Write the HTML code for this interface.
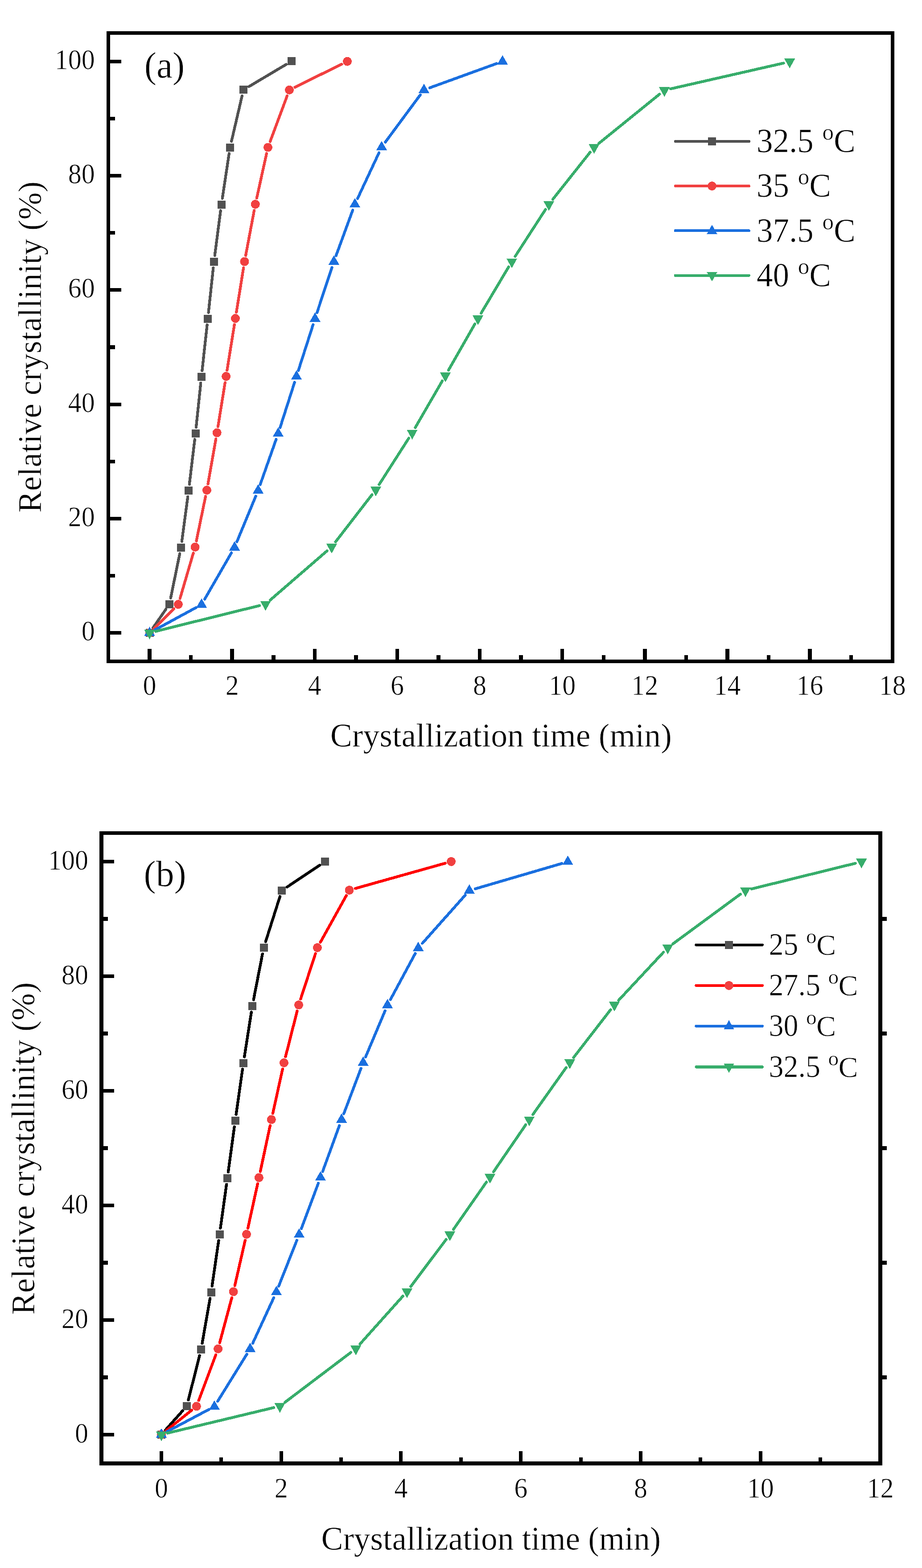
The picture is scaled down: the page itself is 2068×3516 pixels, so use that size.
<!DOCTYPE html>
<html lang="en">
<head>
<meta charset="utf-8">
<title>Relative crystallinity vs crystallization time</title>
<style>
html,body{margin:0;padding:0;background:#fff}
body{width:2068px;height:3516px;overflow:hidden}
svg{display:block}
text{font-family:"Liberation Serif",serif;stroke:#fff;stroke-width:0.7px;stroke-linejoin:round}
</style>
</head>
<body>
<svg width="2068" height="3516" viewBox="0 0 2068 3516" font-family="'Liberation Serif', serif" fill="#000">
<g id="plot-a" shape-rendering="crispEdges">
<g><path d="M343.47 1407.49L372.03 1366.21M382.81 1340.98L403.19 1241.52M407.86 1213.92L421.24 1113.78M424.77 1086L436.83 985.5M439.96 957.68L450.34 858.92M453.33 831.08L464.57 728.52M467.6 700.68L478.4 600.62M481.71 572.82L494.79 472.48M498.7 444.76L513.9 344.34M519.18 316.87L542.92 215.03M558.13 194.24L641.87 144.46" fill="none" stroke="#515151" stroke-width="6.3" stroke-linecap="round"/><rect x="326.5" y="1410" width="18" height="18" fill="#515151"/><rect x="371" y="1345.7" width="18" height="18" fill="#515151"/><rect x="397" y="1218.8" width="18" height="18" fill="#515151"/><rect x="414.1" y="1090.9" width="18" height="18" fill="#515151"/><rect x="429.5" y="962.6" width="18" height="18" fill="#515151"/><rect x="442.8" y="836" width="18" height="18" fill="#515151"/><rect x="457.1" y="705.6" width="18" height="18" fill="#515151"/><rect x="470.9" y="577.7" width="18" height="18" fill="#515151"/><rect x="487.6" y="449.6" width="18" height="18" fill="#515151"/><rect x="507" y="321.5" width="18" height="18" fill="#515151"/><rect x="537.1" y="192.4" width="18" height="18" fill="#515151"/><rect x="644.9" y="128.3" width="18" height="18" fill="#515151"/></g>
<g><path d="M345.45 1409.15L389.95 1365.05M403.84 1341.77L433.66 1240.13M440.44 1212.99L461.16 1112.81M466.43 1085.31L484.27 984.19M488.93 956.58L504.87 857.82M509.32 830.18L525.78 727.82M530.22 700.18L546.28 600.32M551.1 572.74L570.2 471.76M575.82 444.33L597.98 344.17M605.89 317.38L644.11 214.82M661.56 195.52L766.44 143.88" fill="none" stroke="#f14040" stroke-width="6.3" stroke-linecap="round"/><circle cx="335.5" cy="1419" r="10" fill="#f14040"/><circle cx="399.9" cy="1355.2" r="10" fill="#f14040"/><circle cx="437.6" cy="1226.7" r="10" fill="#f14040"/><circle cx="464" cy="1099.1" r="10" fill="#f14040"/><circle cx="486.7" cy="970.4" r="10" fill="#f14040"/><circle cx="507.1" cy="844" r="10" fill="#f14040"/><circle cx="528" cy="714" r="10" fill="#f14040"/><circle cx="548.5" cy="586.5" r="10" fill="#f14040"/><circle cx="572.8" cy="458" r="10" fill="#f14040"/><circle cx="601" cy="330.5" r="10" fill="#f14040"/><circle cx="649" cy="201.7" r="10" fill="#f14040"/><circle cx="779" cy="137.7" r="10" fill="#f14040"/></g>
<g><path d="M347.8 1412.32L439.8 1362.38M459.1 1343.57L519.1 1239.63M531.45 1214.56L573.65 1112.64M583.65 1086.5L619.35 985.2M628.27 958.67L660.73 857.33M669.28 830.67L702.32 727.83M710.99 701.21L744.51 599.79M753.72 573.36L791.18 471.14M801.94 445.32L850.06 342.58M864.33 318.64L942.57 212.86M964.06 196.83L1113.94 142.47" fill="none" stroke="#1a6fdf" stroke-width="6.3" stroke-linecap="round"/><polygon points="335.5,1405.1 323.4,1426 347.6,1426" fill="#1a6fdf"/><polygon points="452.1,1341.8 440,1362.7 464.2,1362.7" fill="#1a6fdf"/><polygon points="526.1,1213.6 514,1234.5 538.2,1234.5" fill="#1a6fdf"/><polygon points="579,1085.8 566.9,1106.7 591.1,1106.7" fill="#1a6fdf"/><polygon points="624,958.1 611.9,979 636.1,979" fill="#1a6fdf"/><polygon points="665,830.1 652.9,851 677.1,851" fill="#1a6fdf"/><polygon points="706.6,700.6 694.5,721.5 718.7,721.5" fill="#1a6fdf"/><polygon points="748.9,572.6 736.8,593.5 761,593.5" fill="#1a6fdf"/><polygon points="796,444.1 783.9,465 808.1,465" fill="#1a6fdf"/><polygon points="856,316 843.9,336.9 868.1,336.9" fill="#1a6fdf"/><polygon points="950.9,187.7 938.8,208.6 963,208.6" fill="#1a6fdf"/><polygon points="1127.1,123.8 1115,144.7 1139.2,144.7" fill="#1a6fdf"/></g>
<g><path d="M349.09 1415.64L582.01 1357.96M606.19 1345.44L733.41 1235.36M752.56 1215.12L834.34 1109.28M850.45 1086.41L916.95 982.49M931.52 958.59L991.98 854.31M1005.94 830.04L1065.06 726.46M1079.16 702.27L1140.84 598.53M1155.6 574.74L1223.5 469.76M1239.8 447.03L1323.8 341.17M1343.38 321.39L1479.32 211.21M1503.85 199.29L1757.55 141.51" fill="none" stroke="#37ad6b" stroke-width="6.3" stroke-linecap="round"/><polygon points="335.5,1433.9 323.4,1412 347.6,1412" fill="#37ad6b"/><polygon points="595.6,1369.5 583.5,1347.6 607.7,1347.6" fill="#37ad6b"/><polygon points="744,1241.1 731.9,1219.2 756.1,1219.2" fill="#37ad6b"/><polygon points="842.9,1113.1 830.8,1091.2 855,1091.2" fill="#37ad6b"/><polygon points="924.5,985.6 912.4,963.7 936.6,963.7" fill="#37ad6b"/><polygon points="999,857.1 986.9,835.2 1011.1,835.2" fill="#37ad6b"/><polygon points="1072,729.2 1059.9,707.3 1084.1,707.3" fill="#37ad6b"/><polygon points="1148,601.4 1135.9,579.5 1160.1,579.5" fill="#37ad6b"/><polygon points="1231.1,472.9 1219,451 1243.2,451" fill="#37ad6b"/><polygon points="1332.5,345.1 1320.4,323.2 1344.6,323.2" fill="#37ad6b"/><polygon points="1490.2,217.3 1478.1,195.4 1502.3,195.4" fill="#37ad6b"/><polygon points="1771.2,153.3 1759.1,131.4 1783.3,131.4" fill="#37ad6b"/></g>
<path d="M335.56 1483V1454.95M520.69 1483V1454.95M705.82 1483V1454.95M890.94 1483V1454.95M1076.07 1483V1454.95M1261.19 1483V1454.95M1446.32 1483V1454.95M1631.45 1483V1454.95M1816.57 1483V1454.95M428.13 1483V1468.95M613.25 1483V1468.95M798.38 1483V1468.95M983.51 1483V1468.95M1168.63 1483V1468.95M1353.76 1483V1468.95M1538.88 1483V1468.95M1724.01 1483V1468.95M1909.14 1483V1468.95" fill="none" stroke="#000" stroke-width="8.5"/>
<path d="M243 1418.95H271.85M243 1162.77H271.85M243 906.59H271.85M243 650.41H271.85M243 394.23H271.85M243 138.05H271.85M243 1290.86H257.65M243 1034.68H257.65M243 778.5H257.65M243 522.32H257.65M243 266.14H257.65" fill="none" stroke="#000" stroke-width="8.1"/>
<rect x="243" y="74" width="1758.7" height="1409" fill="none" stroke="#000" stroke-width="8.3"/>
<g font-size="60" text-anchor="middle"><text transform="translate(335.56 1557.8) scale(1 1.05)">0</text><text transform="translate(520.69 1557.8) scale(1 1.05)">2</text><text transform="translate(705.82 1557.8) scale(1 1.05)">4</text><text transform="translate(890.94 1557.8) scale(1 1.05)">6</text><text transform="translate(1076.07 1557.8) scale(1 1.05)">8</text><text transform="translate(1261.19 1557.8) scale(1 1.05)">10</text><text transform="translate(1446.32 1557.8) scale(1 1.05)">12</text><text transform="translate(1631.45 1557.8) scale(1 1.05)">14</text><text transform="translate(1816.57 1557.8) scale(1 1.05)">16</text><text transform="translate(2001.7 1557.8) scale(1 1.05)">18</text></g>
<g font-size="60" text-anchor="end"><text transform="translate(212.7 1435.95) scale(1 1.05)">0</text><text transform="translate(212.7 1179.77) scale(1 1.05)">20</text><text transform="translate(212.7 923.59) scale(1 1.05)">40</text><text transform="translate(212.7 667.41) scale(1 1.05)">60</text><text transform="translate(212.7 411.23) scale(1 1.05)">80</text><text transform="translate(212.7 155.05) scale(1 1.05)">100</text></g>
<text x="1123.7" y="1673.8" font-size="73.75" text-anchor="middle">Crystallization time (min)</text>
<text transform="translate(92 778.3) rotate(-90)" font-size="73.5" text-anchor="middle">Relative crystallinity (%)</text>
<text x="323.8" y="174.3" font-size="81.5">(a)</text>
<path d="M1514.85 317H1679.65" stroke="#515151" stroke-width="6.3" stroke-linecap="round" fill="none"/>
<rect x="1588" y="308" width="18" height="18" fill="#515151"/>
<g font-size="73"><text transform="translate(1697 341.2) scale(1 1.05)">32.5</text><text x="1844.6" y="313.31" font-size="51.1">o</text><text x="1869.95" y="341.2">C</text></g>
<path d="M1514.85 417.1H1679.65" stroke="#f14040" stroke-width="6.3" stroke-linecap="round" fill="none"/>
<circle cx="1597" cy="417.1" r="10" fill="#f14040"/>
<g font-size="73"><text transform="translate(1697 441.3) scale(1 1.05)">35</text><text x="1789.85" y="413.41" font-size="51.1">o</text><text x="1815.2" y="441.3">C</text></g>
<path d="M1514.85 517.3H1679.65" stroke="#1a6fdf" stroke-width="6.3" stroke-linecap="round" fill="none"/>
<polygon points="1597,504 1585.35,524.6 1608.65,524.6" fill="#1a6fdf"/>
<g font-size="73"><text transform="translate(1697 541.5) scale(1 1.05)">37.5</text><text x="1844.6" y="513.61" font-size="51.1">o</text><text x="1869.95" y="541.5">C</text></g>
<path d="M1514.85 617.7H1679.65" stroke="#37ad6b" stroke-width="6.3" stroke-linecap="round" fill="none"/>
<polygon points="1597,631 1585.35,610.4 1608.65,610.4" fill="#37ad6b"/>
<g font-size="73"><text transform="translate(1697 641.9) scale(1 1.05)">40</text><text x="1789.85" y="614.01" font-size="51.1">o</text><text x="1815.2" y="641.9">C</text></g>
</g>
<g id="plot-b" shape-rendering="crispEdges">
<g><path d="M371.33 3206.36L409.77 3163.34M422.51 3139.32L447.59 3039.58M453.43 3012.21L471.17 2911.39M475.62 2883.75L490.48 2781.65M494.43 2753.93L508.07 2655.77M511.89 2628.03L525.71 2526.67M529.57 2498.94L544.03 2397.46M548.16 2369.77L563.84 2269.53M568.68 2241.96L588.82 2138.74M595.74 2111.66L627.96 2010.24M643.83 1989.11L717.27 1939.89" fill="none" stroke="#000000" stroke-width="6.3" stroke-linecap="round"/><rect x="353" y="3207.8" width="18" height="18" fill="#515151"/><rect x="410.1" y="3143.9" width="18" height="18" fill="#515151"/><rect x="442" y="3017" width="18" height="18" fill="#515151"/><rect x="464.6" y="2888.6" width="18" height="18" fill="#515151"/><rect x="483.5" y="2758.8" width="18" height="18" fill="#515151"/><rect x="501" y="2632.9" width="18" height="18" fill="#515151"/><rect x="518.6" y="2503.8" width="18" height="18" fill="#515151"/><rect x="537" y="2374.6" width="18" height="18" fill="#515151"/><rect x="557" y="2246.7" width="18" height="18" fill="#515151"/><rect x="582.5" y="2116" width="18" height="18" fill="#515151"/><rect x="623.2" y="1987.9" width="18" height="18" fill="#515151"/><rect x="719.9" y="1923.1" width="18" height="18" fill="#515151"/></g>
<g><path d="M372.91 3208.02L429.89 3162.18M445.72 3140.29L484.18 3037.71M492.74 3011.08L519.96 2909.92M526.72 2882.75L549.88 2781.35M556 2754.03L577.9 2654.37M583.83 2627.01L605.87 2524.09M611.83 2496.73L633.97 2396.77M640.45 2369.53L666.55 2266.97M674.34 2240.09L707.56 2138.31M718.7 2112.76L776.8 2008.24M797.08 1992.22L998.52 1935.68" fill="none" stroke="#ff0000" stroke-width="6.3" stroke-linecap="round"/><circle cx="362" cy="3216.8" r="10" fill="#f14040"/><circle cx="440.8" cy="3153.4" r="10" fill="#f14040"/><circle cx="489.1" cy="3024.6" r="10" fill="#f14040"/><circle cx="523.6" cy="2896.4" r="10" fill="#f14040"/><circle cx="553" cy="2767.7" r="10" fill="#f14040"/><circle cx="580.9" cy="2640.7" r="10" fill="#f14040"/><circle cx="608.8" cy="2510.4" r="10" fill="#f14040"/><circle cx="637" cy="2383.1" r="10" fill="#f14040"/><circle cx="670" cy="2253.4" r="10" fill="#f14040"/><circle cx="711.9" cy="2125" r="10" fill="#f14040"/><circle cx="783.6" cy="1996" r="10" fill="#f14040"/><circle cx="1012" cy="1931.9" r="10" fill="#f14040"/></g>
<g><path d="M374.38 3210.26L468.52 3160.54M488.27 3142.1L553.63 3036.6M566.87 3011.99L614.13 2909.71M625.15 2883.98L665.85 2781.12M675.91 2754.99L713.99 2653.21M723.69 2626.95L761.31 2523.75M771.07 2497.51L809.63 2395.89M820.04 2369.9L863.66 2266.6M875.74 2241.37L931.46 2137.93M947.41 2115.14L1043.39 2007.36M1066.14 1992.97L1260.16 1936.23" fill="none" stroke="#1a6fdf" stroke-width="6.3" stroke-linecap="round"/><polygon points="362,3202.9 349.9,3223.8 374.1,3223.8" fill="#1a6fdf"/><polygon points="480.9,3140.1 468.8,3161 493,3161" fill="#1a6fdf"/><polygon points="561,3010.8 548.9,3031.7 573.1,3031.7" fill="#1a6fdf"/><polygon points="620,2883.1 607.9,2904 632.1,2904" fill="#1a6fdf"/><polygon points="671,2754.2 658.9,2775.1 683.1,2775.1" fill="#1a6fdf"/><polygon points="718.9,2626.2 706.8,2647.1 731,2647.1" fill="#1a6fdf"/><polygon points="766.1,2496.7 754,2517.6 778.2,2517.6" fill="#1a6fdf"/><polygon points="814.6,2368.9 802.5,2389.8 826.7,2389.8" fill="#1a6fdf"/><polygon points="869.1,2239.8 857,2260.7 881.2,2260.7" fill="#1a6fdf"/><polygon points="938.1,2111.7 926,2132.6 950.2,2132.6" fill="#1a6fdf"/><polygon points="1052.7,1983 1040.6,2003.9 1064.8,2003.9" fill="#1a6fdf"/><polygon points="1273.6,1918.4 1261.5,1939.3 1285.7,1939.3" fill="#1a6fdf"/></g>
<g><path d="M375.61 3213.54L614.09 3156.36M638.87 3144.65L786.93 3032.65M807.44 3013.77L903.56 2906.53M921.31 2884.91L1000.59 2779.39M1017.01 2756.72L1090.99 2650.68M1106.91 2627.65L1179.19 2522.15M1195.2 2499.18L1269.9 2393.82M1286.57 2371.33L1369.43 2264.27M1387.55 2242.97L1488.15 2135.23M1508.97 2116.7L1660.73 2005M1685.59 1993.34L1918.71 1935.76" fill="none" stroke="#37ad6b" stroke-width="6.3" stroke-linecap="round"/><polygon points="362,3231.7 349.9,3209.8 374.1,3209.8" fill="#37ad6b"/><polygon points="627.7,3168 615.6,3146.1 639.8,3146.1" fill="#37ad6b"/><polygon points="798.1,3039.1 786,3017.2 810.2,3017.2" fill="#37ad6b"/><polygon points="912.9,2911 900.8,2889.1 925,2889.1" fill="#37ad6b"/><polygon points="1009,2783.1 996.9,2761.2 1021.1,2761.2" fill="#37ad6b"/><polygon points="1099,2654.1 1086.9,2632.2 1111.1,2632.2" fill="#37ad6b"/><polygon points="1187.1,2525.5 1175,2503.6 1199.2,2503.6" fill="#37ad6b"/><polygon points="1278,2397.3 1265.9,2375.4 1290.1,2375.4" fill="#37ad6b"/><polygon points="1378,2268.1 1365.9,2246.2 1390.1,2246.2" fill="#37ad6b"/><polygon points="1497.7,2139.9 1485.6,2118 1509.8,2118" fill="#37ad6b"/><polygon points="1672,2011.6 1659.9,1989.7 1684.1,1989.7" fill="#37ad6b"/><polygon points="1932.3,1947.3 1920.2,1925.4 1944.4,1925.4" fill="#37ad6b"/></g>
<path d="M361.88 3281.5V3253.8M630.65 3281.5V3253.8M899.42 3281.5V3253.8M1168.19 3281.5V3253.8M1436.96 3281.5V3253.8M1705.73 3281.5V3253.8M496.27 3281.5V3267.8M765.04 3281.5V3267.8M1033.81 3281.5V3267.8M1302.58 3281.5V3267.8M1571.35 3281.5V3267.8M1840.12 3281.5V3267.8" fill="none" stroke="#000" stroke-width="7.9"/>
<path d="M227.5 3217.24H255.9M227.5 2960.2H255.9M227.5 2703.17H255.9M227.5 2446.13H255.9M227.5 2189.1H255.9M227.5 1932.06H255.9M227.5 3088.72H242M227.5 2831.69H242M227.5 2574.65H242M227.5 2317.61H242M227.5 2060.58H242M1974.5 3088.72H1989M1974.5 2831.69H1989M1974.5 2574.65H1989M1974.5 2317.61H1989M1974.5 2060.58H1989" fill="none" stroke="#000" stroke-width="8.5"/>
<rect x="227.5" y="1867.8" width="1747" height="1413.7" fill="none" stroke="#000" stroke-width="8.4"/>
<g font-size="60" text-anchor="middle"><text transform="translate(361.88 3358.2) scale(1 1.05)">0</text><text transform="translate(630.65 3358.2) scale(1 1.05)">2</text><text transform="translate(899.42 3358.2) scale(1 1.05)">4</text><text transform="translate(1168.19 3358.2) scale(1 1.05)">6</text><text transform="translate(1436.96 3358.2) scale(1 1.05)">8</text><text transform="translate(1705.73 3358.2) scale(1 1.05)">10</text><text transform="translate(1974.5 3358.2) scale(1 1.05)">12</text></g>
<g font-size="60" text-anchor="end"><text transform="translate(198 3234.84) scale(1 1.05)">0</text><text transform="translate(198 2977.8) scale(1 1.05)">20</text><text transform="translate(198 2720.77) scale(1 1.05)">40</text><text transform="translate(198 2463.73) scale(1 1.05)">60</text><text transform="translate(198 2206.7) scale(1 1.05)">80</text><text transform="translate(198 1949.66) scale(1 1.05)">100</text></g>
<text x="1101.4" y="3475" font-size="73.35" text-anchor="middle">Crystallization time (min)</text>
<text transform="translate(77 2575.3) rotate(-90)" font-size="73.8" text-anchor="middle">Relative crystallinity (%)</text>
<text x="322.6" y="1987" font-size="81.5">(b)</text>
<path d="M1561.55 2118.8H1709.65" stroke="#000000" stroke-width="6.3" stroke-linecap="round" fill="none"/>
<rect x="1626" y="2109.8" width="18" height="18" fill="#515151"/>
<g font-size="66"><text transform="translate(1724.5 2140.8) scale(1 1.05)">25</text><text x="1807.9" y="2115.39" font-size="47.26">o</text><text x="1830.91" y="2140.8">C</text></g>
<path d="M1561.55 2209.9H1709.65" stroke="#ff0000" stroke-width="6.3" stroke-linecap="round" fill="none"/>
<circle cx="1635" cy="2209.9" r="10" fill="#f14040"/>
<g font-size="66"><text transform="translate(1724.5 2231.9) scale(1 1.05)">27.5</text><text x="1857.4" y="2206.49" font-size="47.26">o</text><text x="1880.41" y="2231.9">C</text></g>
<path d="M1561.55 2300.9H1709.65" stroke="#1a6fdf" stroke-width="6.3" stroke-linecap="round" fill="none"/>
<polygon points="1635,2287.6 1623.35,2308.2 1646.65,2308.2" fill="#1a6fdf"/>
<g font-size="66"><text transform="translate(1724.5 2322.9) scale(1 1.05)">30</text><text x="1807.9" y="2297.49" font-size="47.26">o</text><text x="1830.91" y="2322.9">C</text></g>
<path d="M1561.55 2392.5H1709.65" stroke="#37ad6b" stroke-width="6.3" stroke-linecap="round" fill="none"/>
<polygon points="1635,2405.8 1623.35,2385.2 1646.65,2385.2" fill="#37ad6b"/>
<g font-size="66"><text transform="translate(1724.5 2414.5) scale(1 1.05)">32.5</text><text x="1857.4" y="2389.09" font-size="47.26">o</text><text x="1880.41" y="2414.5">C</text></g>
</g>
</svg>
</body>
</html>
